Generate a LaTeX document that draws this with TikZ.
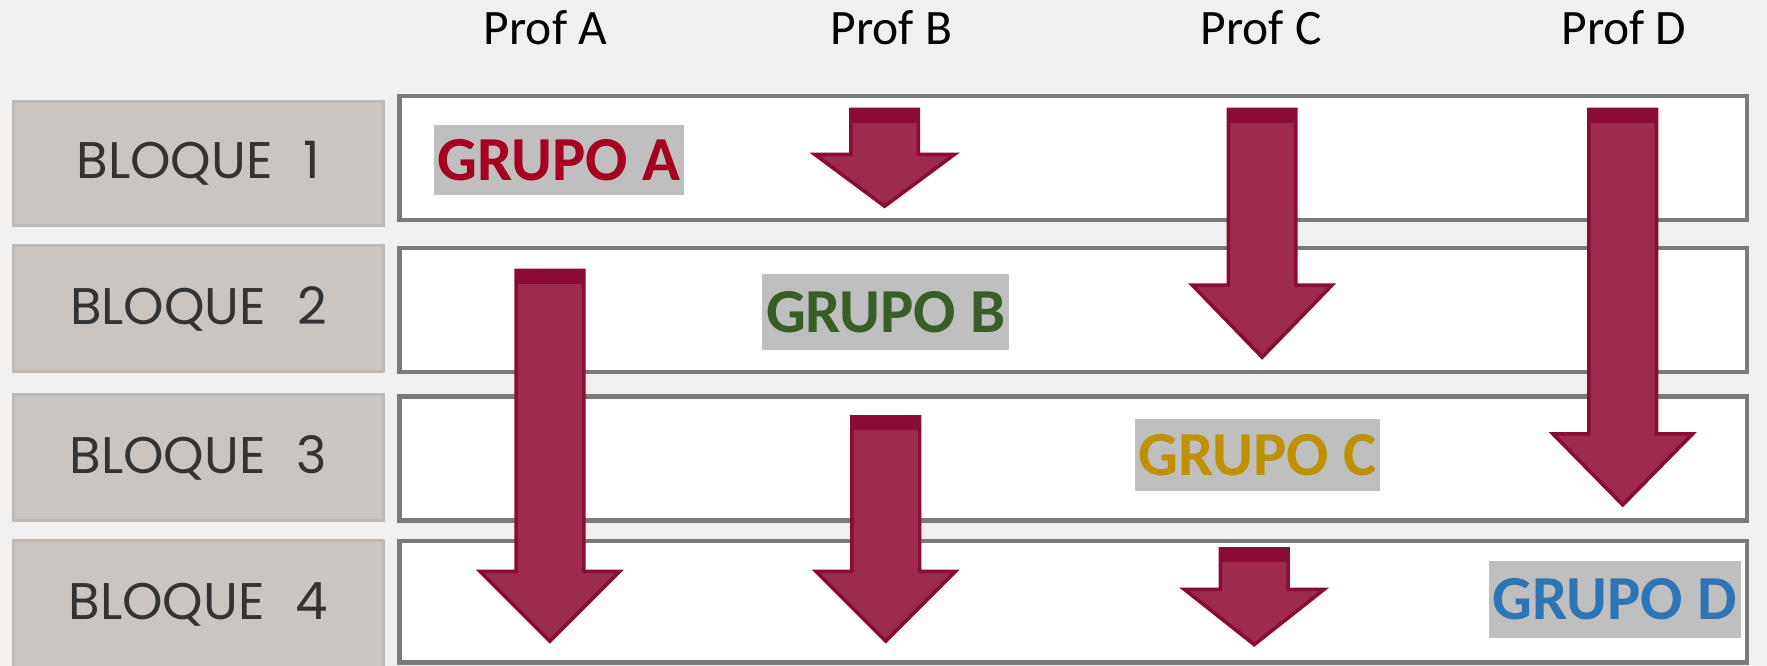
\documentclass[tikz,border=0pt]{standalone}
\usepackage{fontspec}
\setmainfont{Carlito}
\newfontfamily\bloquefont{Poppins}

\definecolor{fondo}{HTML}{F0F0F0}
\definecolor{bloquegris}{HTML}{CAC5C1}
\definecolor{bloqueborde}{HTML}{BEB9B4}
\definecolor{marco}{HTML}{7A7A7A}
\definecolor{grupogris}{HTML}{BFBFBF}
\definecolor{flechacuerpo}{HTML}{9C2B4D}
\definecolor{flechaborde}{HTML}{8B0B34}
\definecolor{rojoA}{HTML}{A50021}
\definecolor{verdeB}{HTML}{3A5D27}
\definecolor{oroC}{HTML}{BF9000}
\definecolor{azulD}{HTML}{2E75B6}

% flecha hacia abajo: centro x, arriba, base de la punta, punta
\newcommand{\flecha}[4]{%
  \filldraw[flecha] ({#1-30},#2) -- ({#1+30},#2) -- ({#1+30},#3) -- ({#1+62},#3)
    -- (#1,#4) -- ({#1-62},#3) -- ({#1-30},#3) -- cycle;
  \fill[flechaborde] ({#1-30},#2) rectangle ({#1+30},{#2+12});
}

\begin{document}
\begin{tikzpicture}[x=0.01cm,y=-0.01cm,
                    bloque/.style={draw=bloqueborde,fill=bloquegris,line width=0.8pt,
                                   minimum width=3.28cm,font=\bloquefont\fontsize{13}{14}\selectfont,
                                   text=black!80},
                    fila/.style={draw=marco,fill=white,line width=1.1pt,minimum width=11.95cm},
                    prof/.style={font=\fontsize{12.5}{14}\selectfont},
                    grupo/.style={fill=grupogris,inner sep=1pt,font=\bfseries\fontsize{15.8}{18}\selectfont},
                    flecha/.style={fill=flechacuerpo,draw=flechaborde,line width=0.9pt,line join=miter}]

  \fill[fondo] (0,0) rectangle (1568,591);
  \useasboundingbox (0,0) rectangle (1568,591);

  % profesores
  \node[prof] (pA) at (484,25) {Prof A};
  \node[prof] (pB) at (791,25) {Prof B};
  \node[prof] (pC) at (1119,25) {Prof C};
  \node[prof] (pD) at (1441,25) {Prof D};

  % bloques
  \node[bloque,minimum height=1.10cm] (b1) at (176,145) {BLOQUE\hspace{0.6em}1};
  \node[bloque,minimum height=1.12cm] (b2) at (176,274) {BLOQUE\hspace{0.6em}2};
  \node[bloque,minimum height=1.12cm] (b3) at (176,406) {BLOQUE\hspace{0.6em}3};
  \node[bloque,minimum height=1.12cm] (b4) at (176,536) {BLOQUE\hspace{0.6em}4};

  % filas
  \node[fila,minimum height=1.10cm] (f1) at (952.5,140) {};
  \node[fila,minimum height=1.10cm] (f2) at (952.5,275) {};
  \node[fila,minimum height=1.10cm] (f3) at (952.5,407) {};
  \node[fila,minimum height=1.08cm] (f4) at (952.5,534) {};

  % flechas
  \foreach \x/\t/\b/\p in {785/97/137/183, 1120/97/253/317, 1440/97/385/448,
                           488/240/507/569, 786/370/507/569, 1113/487/523/572}
    \flecha{\x}{\t}{\b}{\p};

  % grupos
  \node[grupo,text=rojoA,minimum width=2.21cm,minimum height=0.62cm] (gA) at (496,142) {GRUPO A};
  \node[grupo,text=verdeB,minimum width=2.18cm,minimum height=0.68cm] (gB) at (786,277) {GRUPO B};
  \node[grupo,text=oroC,minimum width=2.17cm,minimum height=0.64cm] (gC) at (1116,404) {GRUPO C};
  \node[grupo,text=azulD,minimum width=2.23cm,minimum height=0.69cm] (gD) at (1433,532) {GRUPO D};
\end{tikzpicture}
\end{document}
